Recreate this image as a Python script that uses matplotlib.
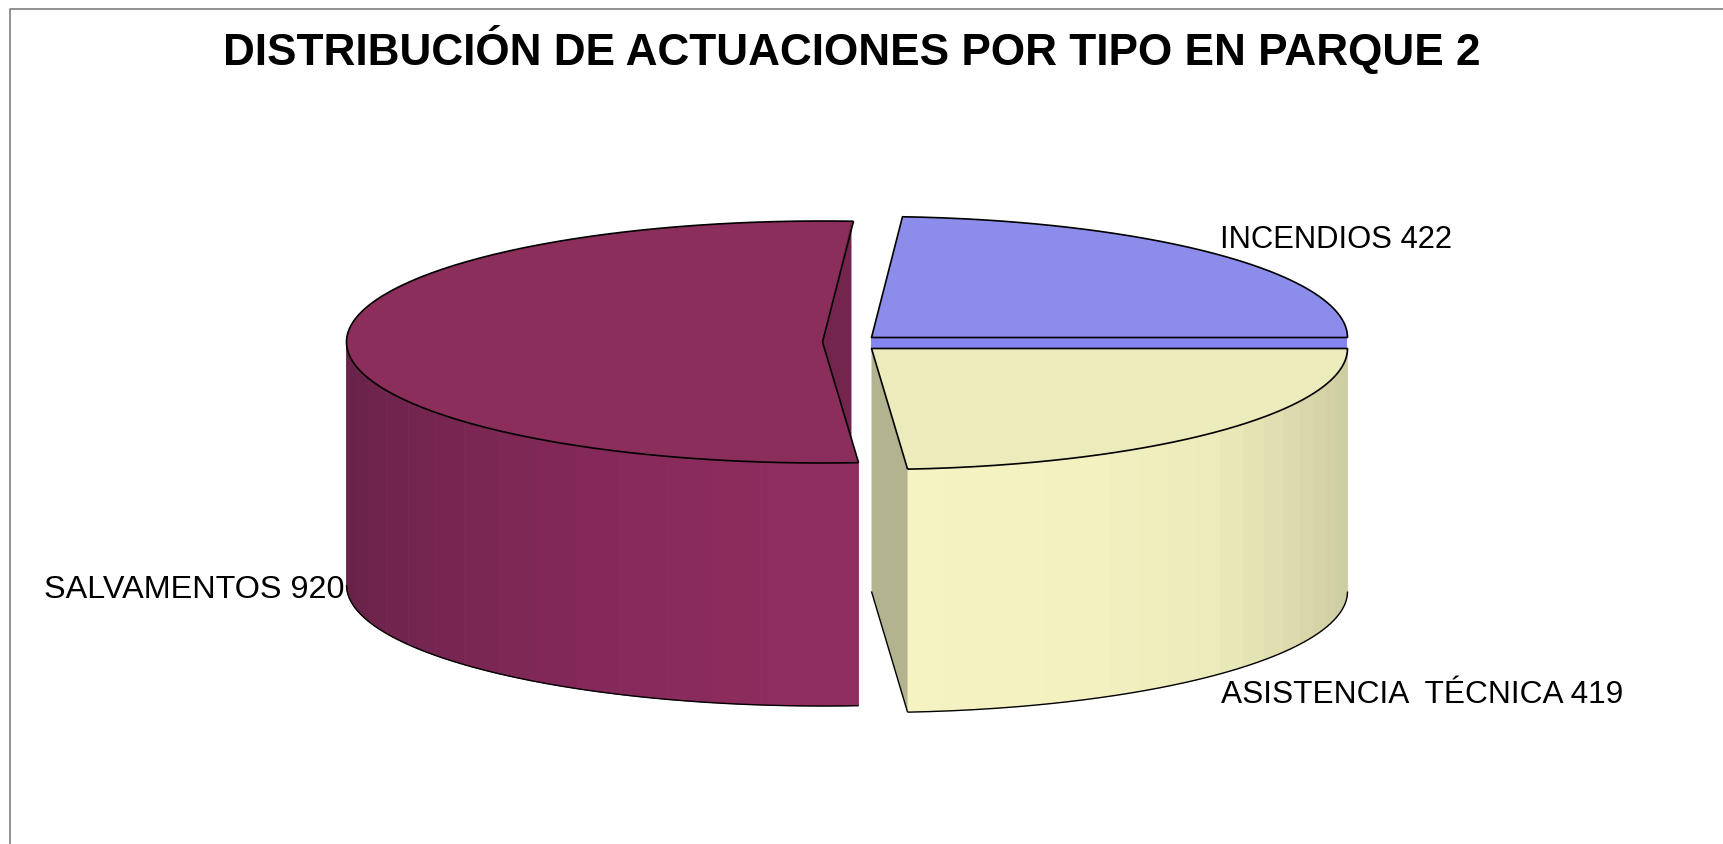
import numpy as np
import matplotlib
matplotlib.use("Agg")
import matplotlib.pyplot as plt
from matplotlib.colors import to_rgb
from matplotlib.patches import Polygon

titulo = "DISTRIBUCIÓN DE ACTUACIONES POR TIPO EN PARQUE 2"
categorias = ["INCENDIOS", "SALVAMENTOS", "ASISTENCIA  TÉCNICA"]
valores = [422, 920, 419]

plt.rcParams['font.family'] = ['Liberation Sans', 'DejaVu Sans']

# angles from the values, starting at 3 o'clock, counter clockwise
total = sum(valores)
grados = [v / total * 360 for v in valores]
a_inc = (0, grados[0])
a_sal = (grados[0], grados[0] + grados[1])
a_asi = (grados[0] + grados[1], 360)

rx, ry, prof = 476, 121, 243
c_inc = (871.5, 337.5)
c_sal = (822.5, 342)
c_asi = (871.5, 348.5)


def arco(c, a0, a1, n=160, dy=0):
    t = np.radians(np.linspace(a0, a1, n))
    return np.column_stack([c[0] + rx * np.cos(t), c[1] + dy - ry * np.sin(t)])


def lado(c, a0, a1, xs, cols, n):
    # side wall drawn in flat vertical stripes, like the old 3d pie
    bordes = np.linspace(a0, a1, n + 1)
    rgb = np.array([to_rgb(k) for k in cols])
    for i in range(n):
        sup = arco(c, bordes[i], bordes[i + 1], 6)
        inf = arco(c, bordes[i], bordes[i + 1], 6, prof)[::-1]
        xm = sup[:, 0].mean()
        col = [np.interp(xm, xs, rgb[:, j]) for j in range(3)]
        ax.add_patch(Polygon(np.vstack([sup, inf]), fc=col, ec=col, lw=0.6, zorder=2))


fig = plt.figure(figsize=(17.24, 8.44), dpi=100)
ax = fig.add_axes([0, 0, 1, 1])
ax.set_xlim(0, 1724)
ax.set_ylim(844, 0)
ax.axis('off')

# frame of the chart area, cut by the picture on the right and bottom
ax.plot([10, 10, 1724], [844, 9, 9], color='#7f7f7f', lw=1.2, zorder=1)

negro = dict(color='black', lw=1.2, zorder=6, solid_capstyle='butt')
fino = dict(negro, lw=1.0)

# SALVAMENTOS
lado(c_sal, 180, a_sal[1], [347, 420, 600, 760, 858],
     ['#692347', '#742650', '#85295a', '#8d2d5e', '#902e60'], 16)
sup_sal = arco(c_sal, *a_sal)
pts = np.vstack([sup_sal, [c_sal]])
ax.add_patch(Polygon(pts, fc='#8b2e5c', ec='none', zorder=3))
p_top, p_bot = sup_sal[0], sup_sal[-1]
x_muro = p_top[0] - 2
y_muro = c_sal[1] + (x_muro - c_sal[0]) / (p_bot[0] - c_sal[0]) * (p_bot[1] - c_sal[1])
ax.add_patch(Polygon([c_sal, (x_muro, p_top[1]), (x_muro, y_muro)],
                     fc='#74254e', ec='none', zorder=4))
ax.plot(*np.vstack([p_bot, c_sal, p_top]).T, **negro)
ax.plot(*sup_sal.T, **negro)
ax.plot(*arco(c_sal, 180, a_sal[1], dy=prof).T, **fino)

# ASISTENCIA TECNICA
lado(c_asi, a_asi[0], 360, [907, 1090, 1210, 1290, 1348],
     ['#f5f3c1', '#f3f1c0', '#ecebbb', '#dedcae', '#cccda1'], 20)
sup_asi = arco(c_asi, *a_asi)
p_asi = sup_asi[0]
muro = [c_asi, p_asi, p_asi + (0, prof), (c_asi[0], c_asi[1] + prof)]
ax.add_patch(Polygon(muro, fc='#b3b38f', ec='none', zorder=3))
ax.add_patch(Polygon(np.vstack([sup_asi, [c_asi]]), fc='#ecebbb', ec='none', zorder=4))
ax.plot(*np.vstack([sup_asi, [c_asi], [p_asi]]).T, **negro)
ax.plot(*arco(c_asi, *a_asi, dy=prof).T, **fino)
ax.plot([c_asi[0], p_asi[0]], [c_asi[1] + prof, p_asi[1] + prof], **fino)

# INCENDIOS
sup_inc = arco(c_inc, *a_inc)
ax.add_patch(Polygon([(c_inc[0], c_inc[1]), (c_inc[0] + rx, c_inc[1]),
                      (c_inc[0] + rx, c_asi[1]), (c_inc[0], c_asi[1])],
                     fc='#8585f0', ec='none', zorder=3))
ax.add_patch(Polygon(np.vstack([sup_inc, [c_inc]]), fc='#8c8ceb', ec='none', zorder=4))
ax.plot(*np.vstack([sup_inc, [c_inc], [sup_inc[0]]]).T, **negro)

ax.text(852, 50, titulo, fontsize=31.8, fontweight='bold', ha='center', va='center', zorder=8)
etiqueta = dict(va='center', ha='left', color='black', zorder=8)
ax.text(1220, 240, f"{categorias[0]} {valores[0]}", fontsize=22.3, **etiqueta)
ax.text(44, 590, f"{categorias[1]} {valores[1]}", fontsize=23.3, **etiqueta)
ax.text(1221, 695, f"{categorias[2]} {valores[2]}", fontsize=22.8, **etiqueta)

fig.savefig("out.png", dpi=100)
